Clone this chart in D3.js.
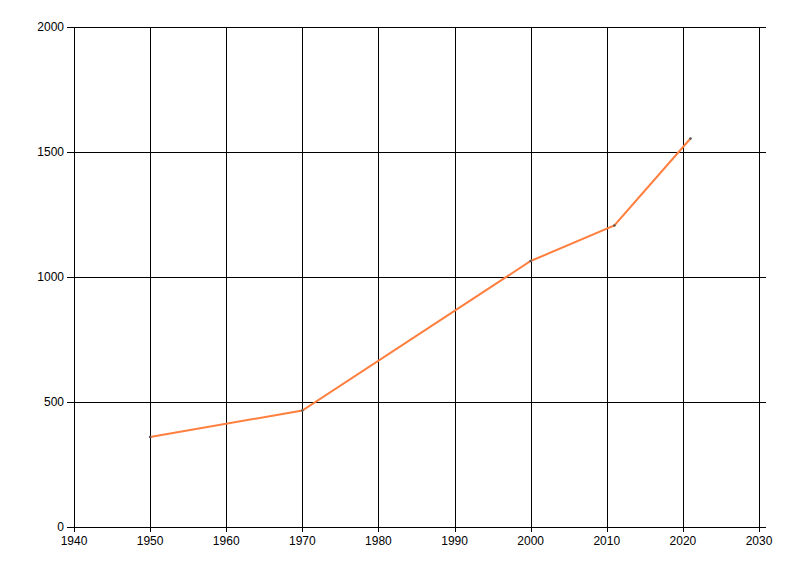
<!DOCTYPE html>
<html><head><meta charset="utf-8">
<script src="https://cdn.jsdelivr.net/npm/d3@7"></script>
<style>html,body{margin:0;padding:0;background:#fff;}</style>
</head><body>
<svg id="c" width="800" height="576"></svg>
<script>
const years = [1950, 1970, 2000, 2011, 2021];
const values = [360, 466, 1064, 1206, 1554];
const xTicks = [1940, 1950, 1960, 1970, 1980, 1990, 2000, 2010, 2020, 2030];
const yTicks = [0, 500, 1000, 1500, 2000];

const svg = d3.select("#c");
const L = 74, R = 759, T = 27, B = 527;
const x = d3.scaleLinear().domain([1940, 2030]).range([L, R]);
const y = d3.scaleLinear().domain([0, 2000]).range([B, T]);

const g = svg.append("g");
// horizontal grid + y ticks
g.selectAll(".hg").data(yTicks).enter().append("line")
  .attr("x1", L - 7).attr("x2", R + 7)
  .attr("y1", d => Math.round(y(d)) + 0.5).attr("y2", d => Math.round(y(d)) + 0.5)
  .attr("stroke", "#000").attr("stroke-width", 1);
// vertical grid + x ticks
g.selectAll(".vg").data(xTicks).enter().append("line")
  .attr("x1", d => Math.round(x(d)) + 0.5).attr("x2", d => Math.round(x(d)) + 0.5)
  .attr("y1", T).attr("y2", B + 5)
  .attr("stroke", "#000").attr("stroke-width", 1);

const font = "'Liberation Sans', Arial, sans-serif";
g.selectAll(".yl").data(yTicks).enter().append("text")
  .attr("x", L - 10).attr("y", d => y(d) + 4)
  .attr("text-anchor", "end").attr("font-family", font).attr("font-size", 12)
  .text(d => d);
g.selectAll(".xl").data(xTicks).enter().append("text")
  .attr("x", d => x(d)).attr("y", B + 18)
  .attr("text-anchor", "middle").attr("font-family", font).attr("font-size", 12)
  .text(d => d);

const data = years.map((yr, i) => [yr, values[i]]);
svg.append("path").datum(data)
  .attr("fill", "none").attr("stroke", "#FF7F3F").attr("stroke-width", 2)
  .attr("d", d3.line().x(d => x(d[0])).y(d => y(d[1])));
svg.selectAll(".pt").data(data).enter().append("circle")
  .attr("cx", d => x(d[0])).attr("cy", d => y(d[1])).attr("r", 1.3)
  .attr("fill", "#555");
</script>
</body></html>
